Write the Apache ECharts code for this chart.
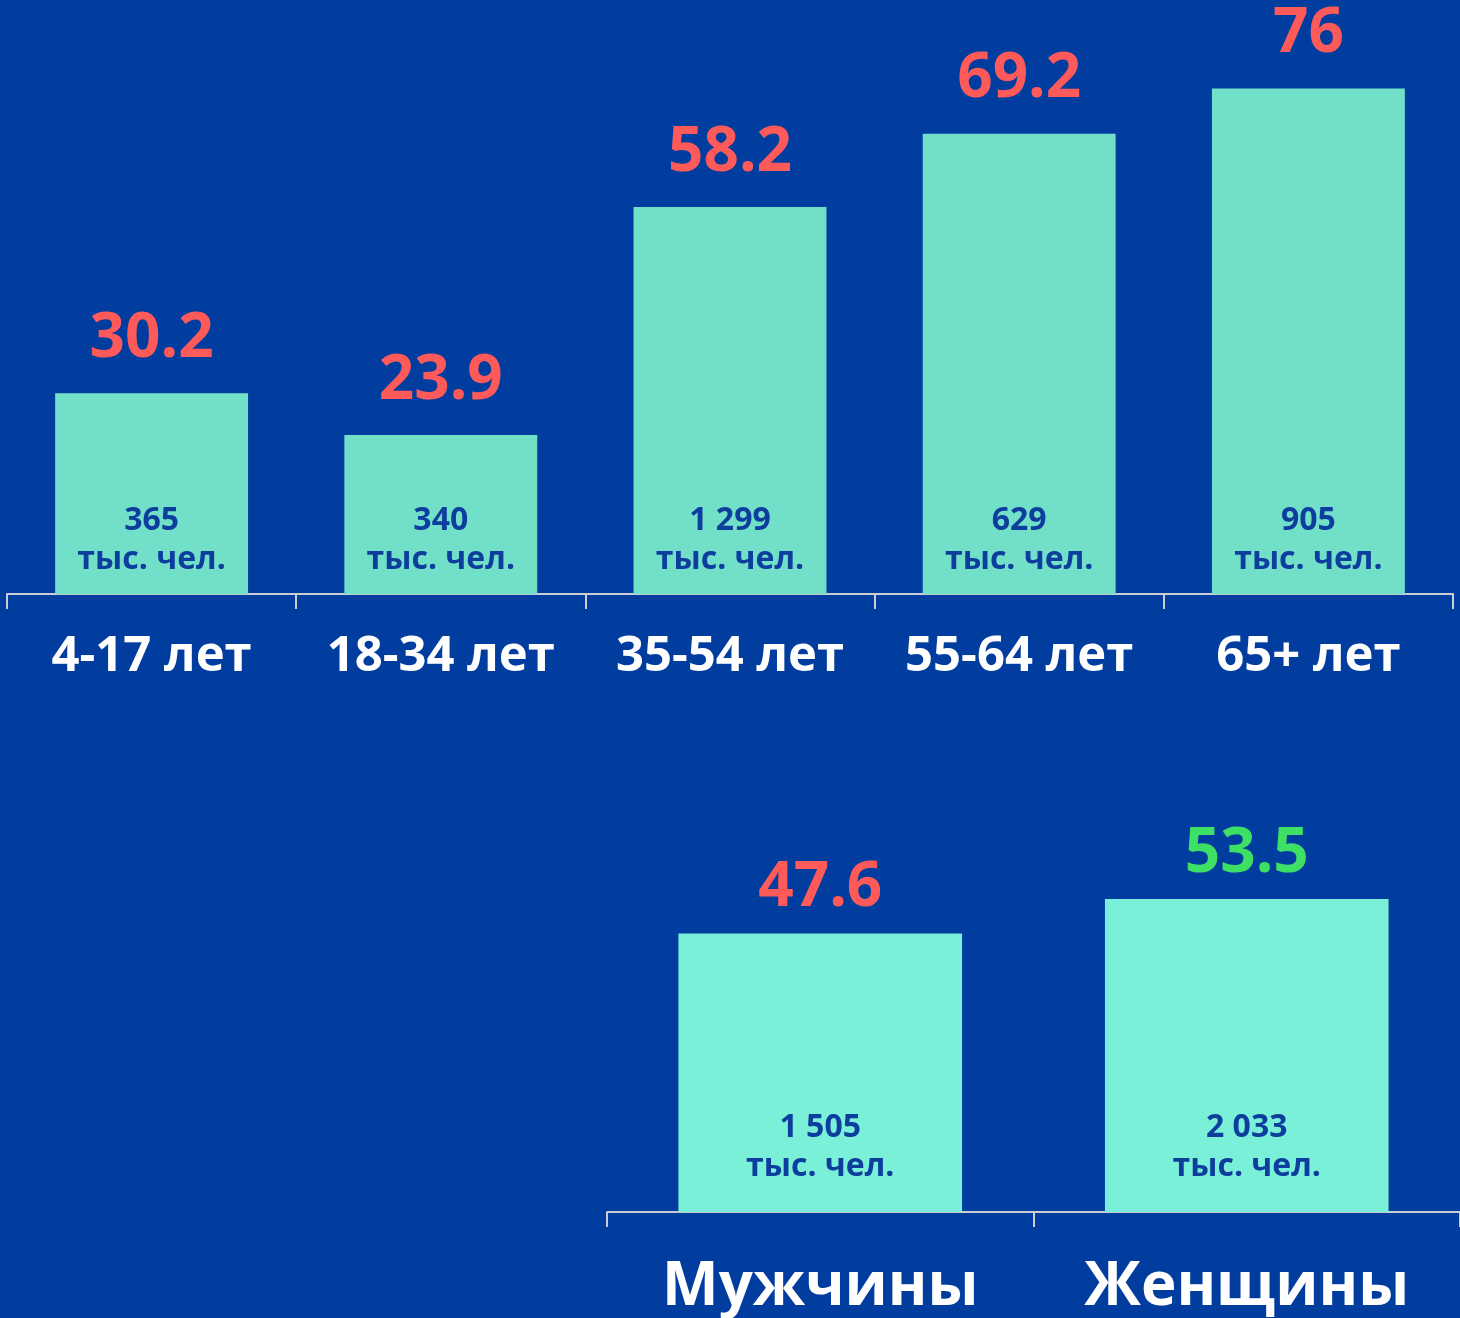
<!DOCTYPE html>
<html><head><meta charset="utf-8">
<script src="https://cdn.jsdelivr.net/npm/echarts@6/dist/echarts.min.js"></script>
<style>html,body{margin:0;padding:0;background:#003D9F;}#c{width:1460px;height:1318px;}</style>
</head><body><div id="c"></div>
<script>
const ageCategories = ['4-17 лет', '18-34 лет', '35-54 лет', '55-64 лет', '65+ лет'];
const ageValues = [30.2, 23.9, 58.2, 69.2, 76];
const ageCounts = ['365', '340', '1 299', '629', '905'];
const genderCategories = ['Мужчины', 'Женщины'];
const genderValues = [47.6, 53.5];
const genderCounts = ['1 505', '2 033'];
const genderValueColors = ['#FF5A5A', '#3DE064'];
const unitText = 'тыс. чел.';

const BG = '#003D9F';
const RED = '#FF5A5A';
const INK = '#0D3E9E';
const FONT = 'Open Sans';

const chart = echarts.init(document.getElementById('c'));
const axisCommon = {
  axisLine: {show: true, lineStyle: {color: '#C9CDD6', width: 2}},
  axisTick: {show: true, interval: 0, length: 15, lineStyle: {color: '#C9CDD6', width: 2}},
  splitLine: {show: false}
};
chart.setOption({
  backgroundColor: BG,
  animation: false,
  grid: [
    {left: 7, right: 7, top: 62, bottom: 1318 - 594},
    {left: 607, right: 0, top: 861, bottom: 1318 - 1214}
  ],
  xAxis: [
    Object.assign({type: 'category', gridIndex: 0, data: ageCategories,
      axisLabel: {interval: 0, color: '#FFFFFF', fontFamily: FONT, fontWeight: 'bold', fontSize: 49, margin: 39}}, axisCommon),
    Object.assign({type: 'category', gridIndex: 1, data: genderCategories,
      axisLabel: {interval: 0, color: '#FFFFFF', fontFamily: FONT, fontWeight: 'bold', fontSize: 60, margin: 46}}, axisCommon)
  ],
  yAxis: [
    {type: 'value', gridIndex: 0, min: 0, max: 80, show: false},
    {type: 'value', gridIndex: 1, min: 0, max: 60, show: false}
  ],
  series: [
    {type: 'bar', xAxisIndex: 0, yAxisIndex: 0, data: ageValues, barWidth: '66.7%', barGap: '-100%',
      itemStyle: {color: '#72E0C9'},
      label: {show: true, position: 'top', distance: 23, color: RED, fontFamily: FONT, fontWeight: 'bold', fontSize: 62}},
    {type: 'bar', xAxisIndex: 0, yAxisIndex: 0, data: ageValues, barWidth: '66.7%', barGap: '-100%',
      itemStyle: {color: 'rgba(0,0,0,0)'}, silent: true,
      label: {show: true, position: 'insideBottom', distance: 15,
        formatter: p => '{a|' + ageCounts[p.dataIndex] + '}\n{a|' + unitText + '}',
        rich: {a: {color: INK, fontFamily: FONT, fontWeight: 'bold', fontSize: 32, lineHeight: 39}}}},
    {type: 'bar', xAxisIndex: 1, yAxisIndex: 1, barWidth: '66.5%', barGap: '-100%',
      data: genderValues.map((v, i) => ({value: v, label: {color: genderValueColors[i]}})),
      itemStyle: {color: '#7AF0D8'},
      label: {show: true, position: 'top', distance: 14, fontFamily: FONT, fontWeight: 'bold', fontSize: 62}},
    {type: 'bar', xAxisIndex: 1, yAxisIndex: 1, data: genderValues, barWidth: '66.5%', barGap: '-100%',
      itemStyle: {color: 'rgba(0,0,0,0)'}, silent: true,
      label: {show: true, position: 'insideBottom', distance: 26,
        formatter: p => '{a|' + genderCounts[p.dataIndex] + '}\n{a|' + unitText + '}',
        rich: {a: {color: INK, fontFamily: FONT, fontWeight: 'bold', fontSize: 32, lineHeight: 39}}}}
  ]
});
</script></body></html>
